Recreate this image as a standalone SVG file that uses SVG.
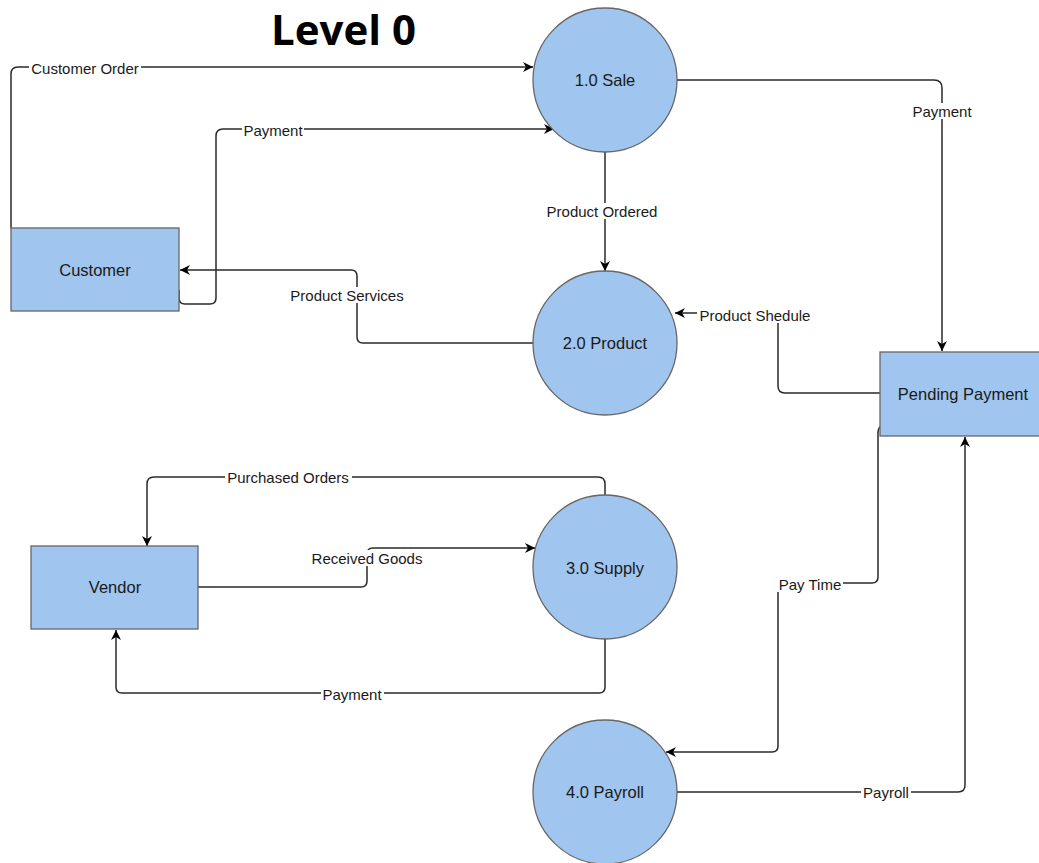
<svg xmlns="http://www.w3.org/2000/svg" width="1039" height="863" viewBox="0 0 1039 863">
<style>
.node{fill:#a0c5ee;stroke:#666;stroke-width:1.3}
.nt{font-family:"Liberation Sans",Arial,sans-serif;font-size:16.5px;fill:#1a1a1a;text-anchor:middle;dominant-baseline:central}
.lbl{font-family:"Liberation Sans",Arial,sans-serif;font-size:15px;fill:#1a1a1a;text-anchor:middle;dominant-baseline:central}
.lb{fill:#fff}
.c{fill:none;stroke:#2a2a2a;stroke-width:1.5}
.a{marker-end:url(#arr)}
</style>
<defs>
<marker id="arr" markerUnits="userSpaceOnUse" markerWidth="12" markerHeight="12" viewBox="0 0 12 12" refX="11" refY="6" orient="auto">
<path d="M1,1 L11,6 L1,11 L4,6 Z" fill="#000"/>
</marker>
</defs>
<rect width="1039" height="863" fill="#fff"/>
<text x="271" y="45" font-family="'Open Sans',sans-serif" font-weight="bold" font-size="42" fill="#000">Level 0</text>

<g id="connectors">
<path class="c a" d="M11,228 L11,74 Q11,67 18,67 L533,67"/>
<path class="c a" d="M179,290 L179,298 Q179,304 185,304 L210,304 Q216,304 216,298 L216,136 Q216,129 223,129 L554,129"/>
<path class="c a" d="M533,343 L363,343 Q357,343 357,337 L357,276 Q357,270 351,270 L180,270"/>
<path class="c a" d="M605,152 L605,271"/>
<path class="c a" d="M677,80 L934,80 Q942,80 942,88 L942,351"/>
<path class="c a" d="M880,393 L785,393 Q778,393 778,386 L778,313 L675,313"/>
<path class="c a" d="M881,426 Q878,428 878,433 L878,577 Q878,583 872,583 L784,583 Q778,583 778,589 L778,746 Q778,752 772,752 L666,752"/>
<path class="c a" d="M677,792 L958,792 Q965,792 965,785 L965,437"/>
<path class="c a" d="M605,495 L605,484 Q605,477 598,477 L154,477 Q147,477 147,484 L147,546"/>
<path class="c a" d="M198,587 L361,587 Q367,587 367,581 L367,554 Q367,548 373,548 L535,548"/>
<path class="c a" d="M605,639 L605,687 Q605,693 599,693 L122,693 Q116,693 116,687 L116,630"/>
</g>

<g id="labels">
<rect class="lb" x="29" y="60" width="112" height="16"/><text class="lbl" x="85" y="68">Customer Order</text>
<rect class="lb" x="242" y="122" width="62" height="16"/><text class="lbl" x="273" y="130">Payment</text>
<rect class="lb" x="288" y="287" width="118" height="16"/><text class="lbl" x="347" y="295">Product Services</text>
<rect class="lb" x="545" y="203" width="114" height="16"/><text class="lbl" x="602" y="211">Product Ordered</text>
<rect class="lb" x="910" y="103" width="64" height="16"/><text class="lbl" x="942" y="111">Payment</text>
<rect class="lb" x="697" y="307" width="116" height="16"/><text class="lbl" x="755" y="315">Product Shedule</text>
<rect class="lb" x="777" y="576" width="66" height="16"/><text class="lbl" x="810" y="584">Pay Time</text>
<rect class="lb" x="861" y="784" width="50" height="16"/><text class="lbl" x="886" y="792">Payroll</text>
<rect class="lb" x="225" y="469" width="127" height="16"/><text class="lbl" x="288" y="477">Purchased Orders</text>
<rect class="lb" x="309" y="550" width="115" height="16"/><text class="lbl" x="367" y="558">Received Goods</text>
<rect class="lb" x="321" y="686" width="63" height="16"/><text class="lbl" x="352" y="694">Payment</text>
</g>

<g id="sale"><circle class="node" cx="605" cy="80" r="72"/><text class="nt" x="605" y="80">1.0 Sale</text></g>
<g id="product"><circle class="node" cx="605" cy="343" r="72"/><text class="nt" x="605" y="343">2.0 Product</text></g>
<g id="supply"><circle class="node" cx="605" cy="567" r="72"/><text class="nt" x="605" y="568">3.0 Supply</text></g>
<g id="payroll"><circle class="node" cx="605" cy="792" r="72"/><text class="nt" x="605" y="792">4.0 Payroll</text></g>
<g id="customer"><rect class="node" x="11" y="228" width="168" height="83"/><text class="nt" x="95" y="270">Customer</text></g>
<g id="pending"><rect class="node" x="880" y="352" width="166" height="84"/><text class="nt" x="963" y="394">Pending Payment</text></g>
<g id="vendor"><rect class="node" x="31" y="546" width="167" height="83"/><text class="nt" x="115" y="587">Vendor</text></g>
</svg>
